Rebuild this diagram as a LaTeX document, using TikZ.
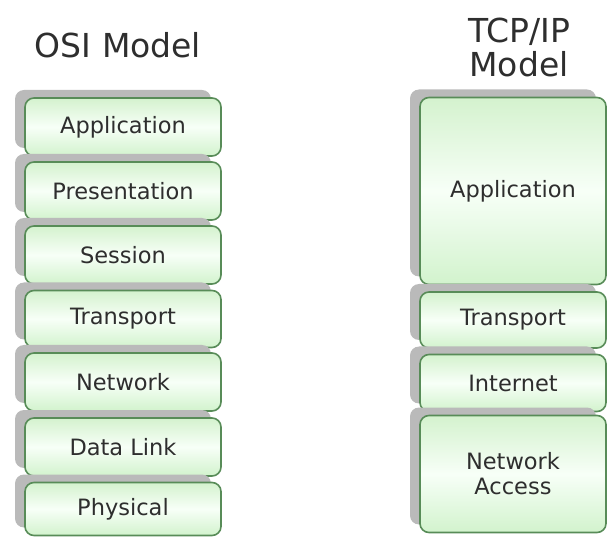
\documentclass[tikz,border=0pt]{standalone}
\usepackage{fontspec}
\setmainfont{DejaVu Sans}
\usetikzlibrary{shadows}

\definecolor{layerEdge}{RGB}{88,140,88}
\definecolor{layerTop}{RGB}{212,242,206}
\definecolor{layerBot}{RGB}{210,243,205}

\begin{document}
\begin{tikzpicture}[x=1pt, y=-1pt,
  layer/.style={draw=layerEdge, line width=1.6pt, rounded corners=9pt,
    top color=layerTop, bottom color=layerBot, middle color=green!3!white,
    text=black!82, font=\fontsize{22.5}{25}\selectfont, align=center, inner sep=0pt,
    general shadow={fill=black!27, shadow xshift=-10pt, shadow yshift=8pt}},
  osi/.style={layer, minimum width=196pt},
  tcp/.style={layer, minimum width=186pt},
  title/.style={text=black!82, font=\fontsize{33}{34}\selectfont, align=center}]
  \useasboundingbox (0,0) rectangle (608,537);

  \node[title] (osiT) at (118,45) {OSI Model};
  \node[title] (tcpT) at (519,47) {TCP/IP\\Model};

  % OSI layers
  \node[osi, minimum height=58pt] (o7) at (123,127) {Application};
  \node[osi, minimum height=58pt] (o6) at (123,191) {Presentation};
  \node[osi, minimum height=58pt] (o5) at (123,255) {Session};
  \node[osi, minimum height=57pt] (o4) at (123,319) {Transport};
  \node[osi, minimum height=58pt] (o3) at (123,382) {Network};
  \node[osi, minimum height=58pt] (o2) at (123,447) {Data Link};
  \node[osi, minimum height=53pt] (o1) at (123,509) {Physical};

  % TCP/IP layers
  \node[tcp, minimum height=187pt] (t4) at (513,191) {Application};
  \node[tcp, minimum height=56pt] (t3) at (513,320) {Transport};
  \node[tcp, minimum height=57pt] (t2) at (513,383) {Internet};
  \node[tcp, minimum height=117pt] (t1) at (513,474) {Network\\Access};
\end{tikzpicture}
\end{document}
